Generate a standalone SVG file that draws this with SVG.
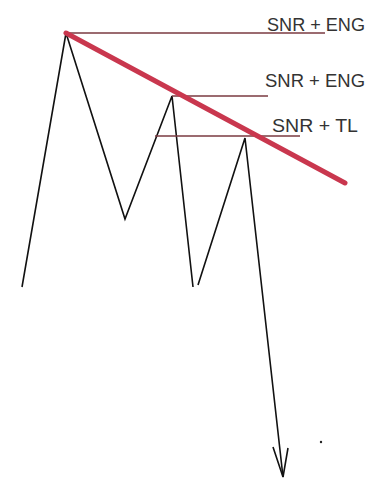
<svg xmlns="http://www.w3.org/2000/svg" width="381" height="482" viewBox="0 0 381 482">
<style>
.zig{fill:none;stroke:#111;stroke-width:1.6;stroke-linejoin:miter}
.lvl{stroke:#7a3a40;stroke-width:1.6}
.tl{stroke:#c9374e;stroke-width:5;stroke-linecap:round}
.lbl{font-family:"Liberation Sans",Arial,sans-serif;font-size:18px;fill:#333}
</style>
<rect width="381" height="482" fill="#fff"/>
<g id="connectors">
<polyline class="zig" points="22,287 66,33 125,219 172,96 193,287"/>
<polyline class="zig" points="198,285 245,138 283,477"/>
<polyline class="zig" points="273,447 283,477 288,448"/>
<line class="lvl" x1="66" y1="33" x2="325" y2="33"/>
<line class="lvl" x1="172" y1="96" x2="268" y2="96"/>
<line class="lvl" x1="155" y1="136" x2="300" y2="136"/>
<line class="tl" x1="66" y1="33" x2="345" y2="183"/>
<circle cx="321" cy="442" r="1.2" fill="#222"/>
</g>
<g id="label1"><text class="lbl" x="267" y="31" textLength="98" lengthAdjust="spacingAndGlyphs">SNR + ENG</text></g>
<g id="label2"><text class="lbl" x="265" y="87" textLength="100" lengthAdjust="spacingAndGlyphs">SNR + ENG</text></g>
<g id="label3"><text class="lbl" x="272" y="132" textLength="86" lengthAdjust="spacingAndGlyphs">SNR + TL</text></g>
</svg>
